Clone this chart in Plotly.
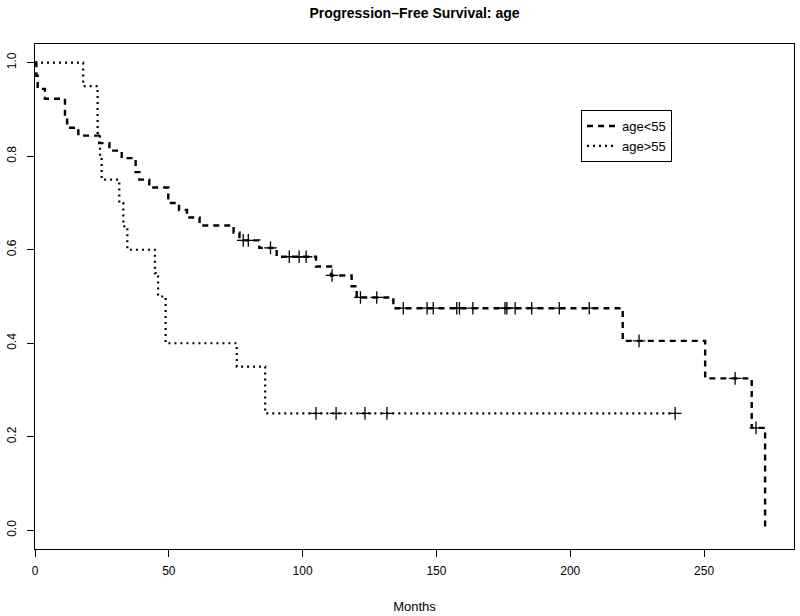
import numpy as np
import plotly.graph_objects as go

# ---- data ----
# age<55 group: Kaplan-Meier step points (time in months, survival)
young_times = [0, 0.5, 1.0, 3.7, 11.2, 12.0, 16.2, 24.0, 27.8, 32.4, 37.6, 39.0, 42.7,
               49.8, 53.8, 56.8, 61.5, 74.2, 76.4, 83.8, 90.3, 105.0, 110.6, 118.3,
               120.2, 133.9, 219.6, 250.4, 267.8, 272.8]
young_surv = [1.0, 0.972, 0.944, 0.923, 0.889, 0.861, 0.844, 0.828, 0.812, 0.796, 0.766,
              0.75, 0.733, 0.70, 0.685, 0.669, 0.652, 0.637, 0.62, 0.604, 0.585, 0.564,
              0.545, 0.522, 0.498, 0.475, 0.405, 0.325, 0.219, 0.0]
young_censor = [77.8, 79.7, 88.0, 95.0, 98.7, 101.3, 111.0, 121.6, 127.7, 137.6, 146.5,
                148.8, 157.6, 158.6, 163.6, 175.6, 176.3, 179.4, 185.6, 195.9, 207.1,
                225.7, 261.6, 269.4]

# age>55 group
old_times = [0, 18.0, 23.4, 24.3, 24.9, 31.5, 33.0, 34.5, 44.8, 46.0, 48.8, 75.4, 86.0, 239.2]
old_surv = [1.0, 0.95, 0.85, 0.80, 0.75, 0.70, 0.65, 0.60, 0.55, 0.50, 0.40, 0.35, 0.25, 0.25]
old_censor = [105.0, 112.5, 123.3, 131.5, 239.2]

x_ticks = [0, 50, 100, 150, 200, 250]
y_ticks = [0.0, 0.2, 0.4, 0.6, 0.8, 1.0]
y_tick_labels = ["0.0", "0.2", "0.4", "0.6", "0.8", "1.0"]


def surv_at(times, surv, t):
    idx = np.searchsorted(np.array(times), t, side="right") - 1
    return [surv[i] for i in idx]


FONT = "Liberation Sans, Arial, Helvetica, sans-serif"
CENSOR_MARK = dict(symbol="cross-thin", size=9, line=dict(color="black", width=1.3))

fig = go.Figure()
fig.add_trace(go.Scatter(
    x=young_times, y=young_surv, mode="lines", line_shape="hv",
    line=dict(color="black", width=2.4, dash="6px,5px"), name="age<55"))
fig.add_trace(go.Scatter(
    x=old_times, y=old_surv, mode="lines", line_shape="hv",
    line=dict(color="black", width=2.2, dash="2px,4px"), name="age>55"))
fig.add_trace(go.Scatter(
    x=young_censor, y=surv_at(young_times, young_surv, young_censor), mode="markers",
    marker=CENSOR_MARK, showlegend=False, hoverinfo="skip"))
fig.add_trace(go.Scatter(
    x=old_censor, y=surv_at(old_times, old_surv, old_censor), mode="markers",
    marker=CENSOR_MARK, showlegend=False, hoverinfo="skip"))

fig.update_layout(
    width=800, height=616,
    margin=dict(l=35, r=6, t=44, b=67, autoexpand=False),
    paper_bgcolor="white", plot_bgcolor="white",
    font=dict(family=FONT, size=12, color="black"),
    title=dict(text="<b>Progression\u2013Free Survival: age</b>",
               x=0.5, xref="paper", y=1 - 13 / 616, yref="container",
               yanchor="middle", xanchor="center", pad=dict(t=0, b=0, l=0, r=0),
               font=dict(family=FONT, size=14, color="black")),
    showlegend=True,
    legend=dict(x=(581 - 35) / 759, y=(549 - 110) / 505, xanchor="left", yanchor="top",
                bordercolor="black", borderwidth=1, bgcolor="white",
                font=dict(family=FONT, size=13), itemwidth=30,
                tracegroupgap=0),
)
fig.update_xaxes(
    range=[0, 283.6], tickvals=x_ticks, ticks="outside", ticklen=7, tickcolor="black",
    showgrid=False, zeroline=False, showline=True, linecolor="black", linewidth=1,
    mirror=True, automargin=False, ticklabelstandoff=4,
    title=dict(text="Months", standoff=24, font=dict(size=13)),
    tickfont=dict(size=12))
fig.update_yaxes(
    range=[-0.04, 1.04], tickvals=y_ticks, ticktext=y_tick_labels, ticks="outside",
    ticklen=7, tickcolor="black", tickangle=-90, automargin=False, ticklabelstandoff=6,
    showgrid=False, zeroline=False, showline=True, linecolor="black", linewidth=1,
    mirror=True, tickfont=dict(size=12))

fig.write_html("out.html",
               config={"displayModeBar": False},
               post_script="document.body.style.margin='0';"
                           "document.body.style.overflow='hidden';")
